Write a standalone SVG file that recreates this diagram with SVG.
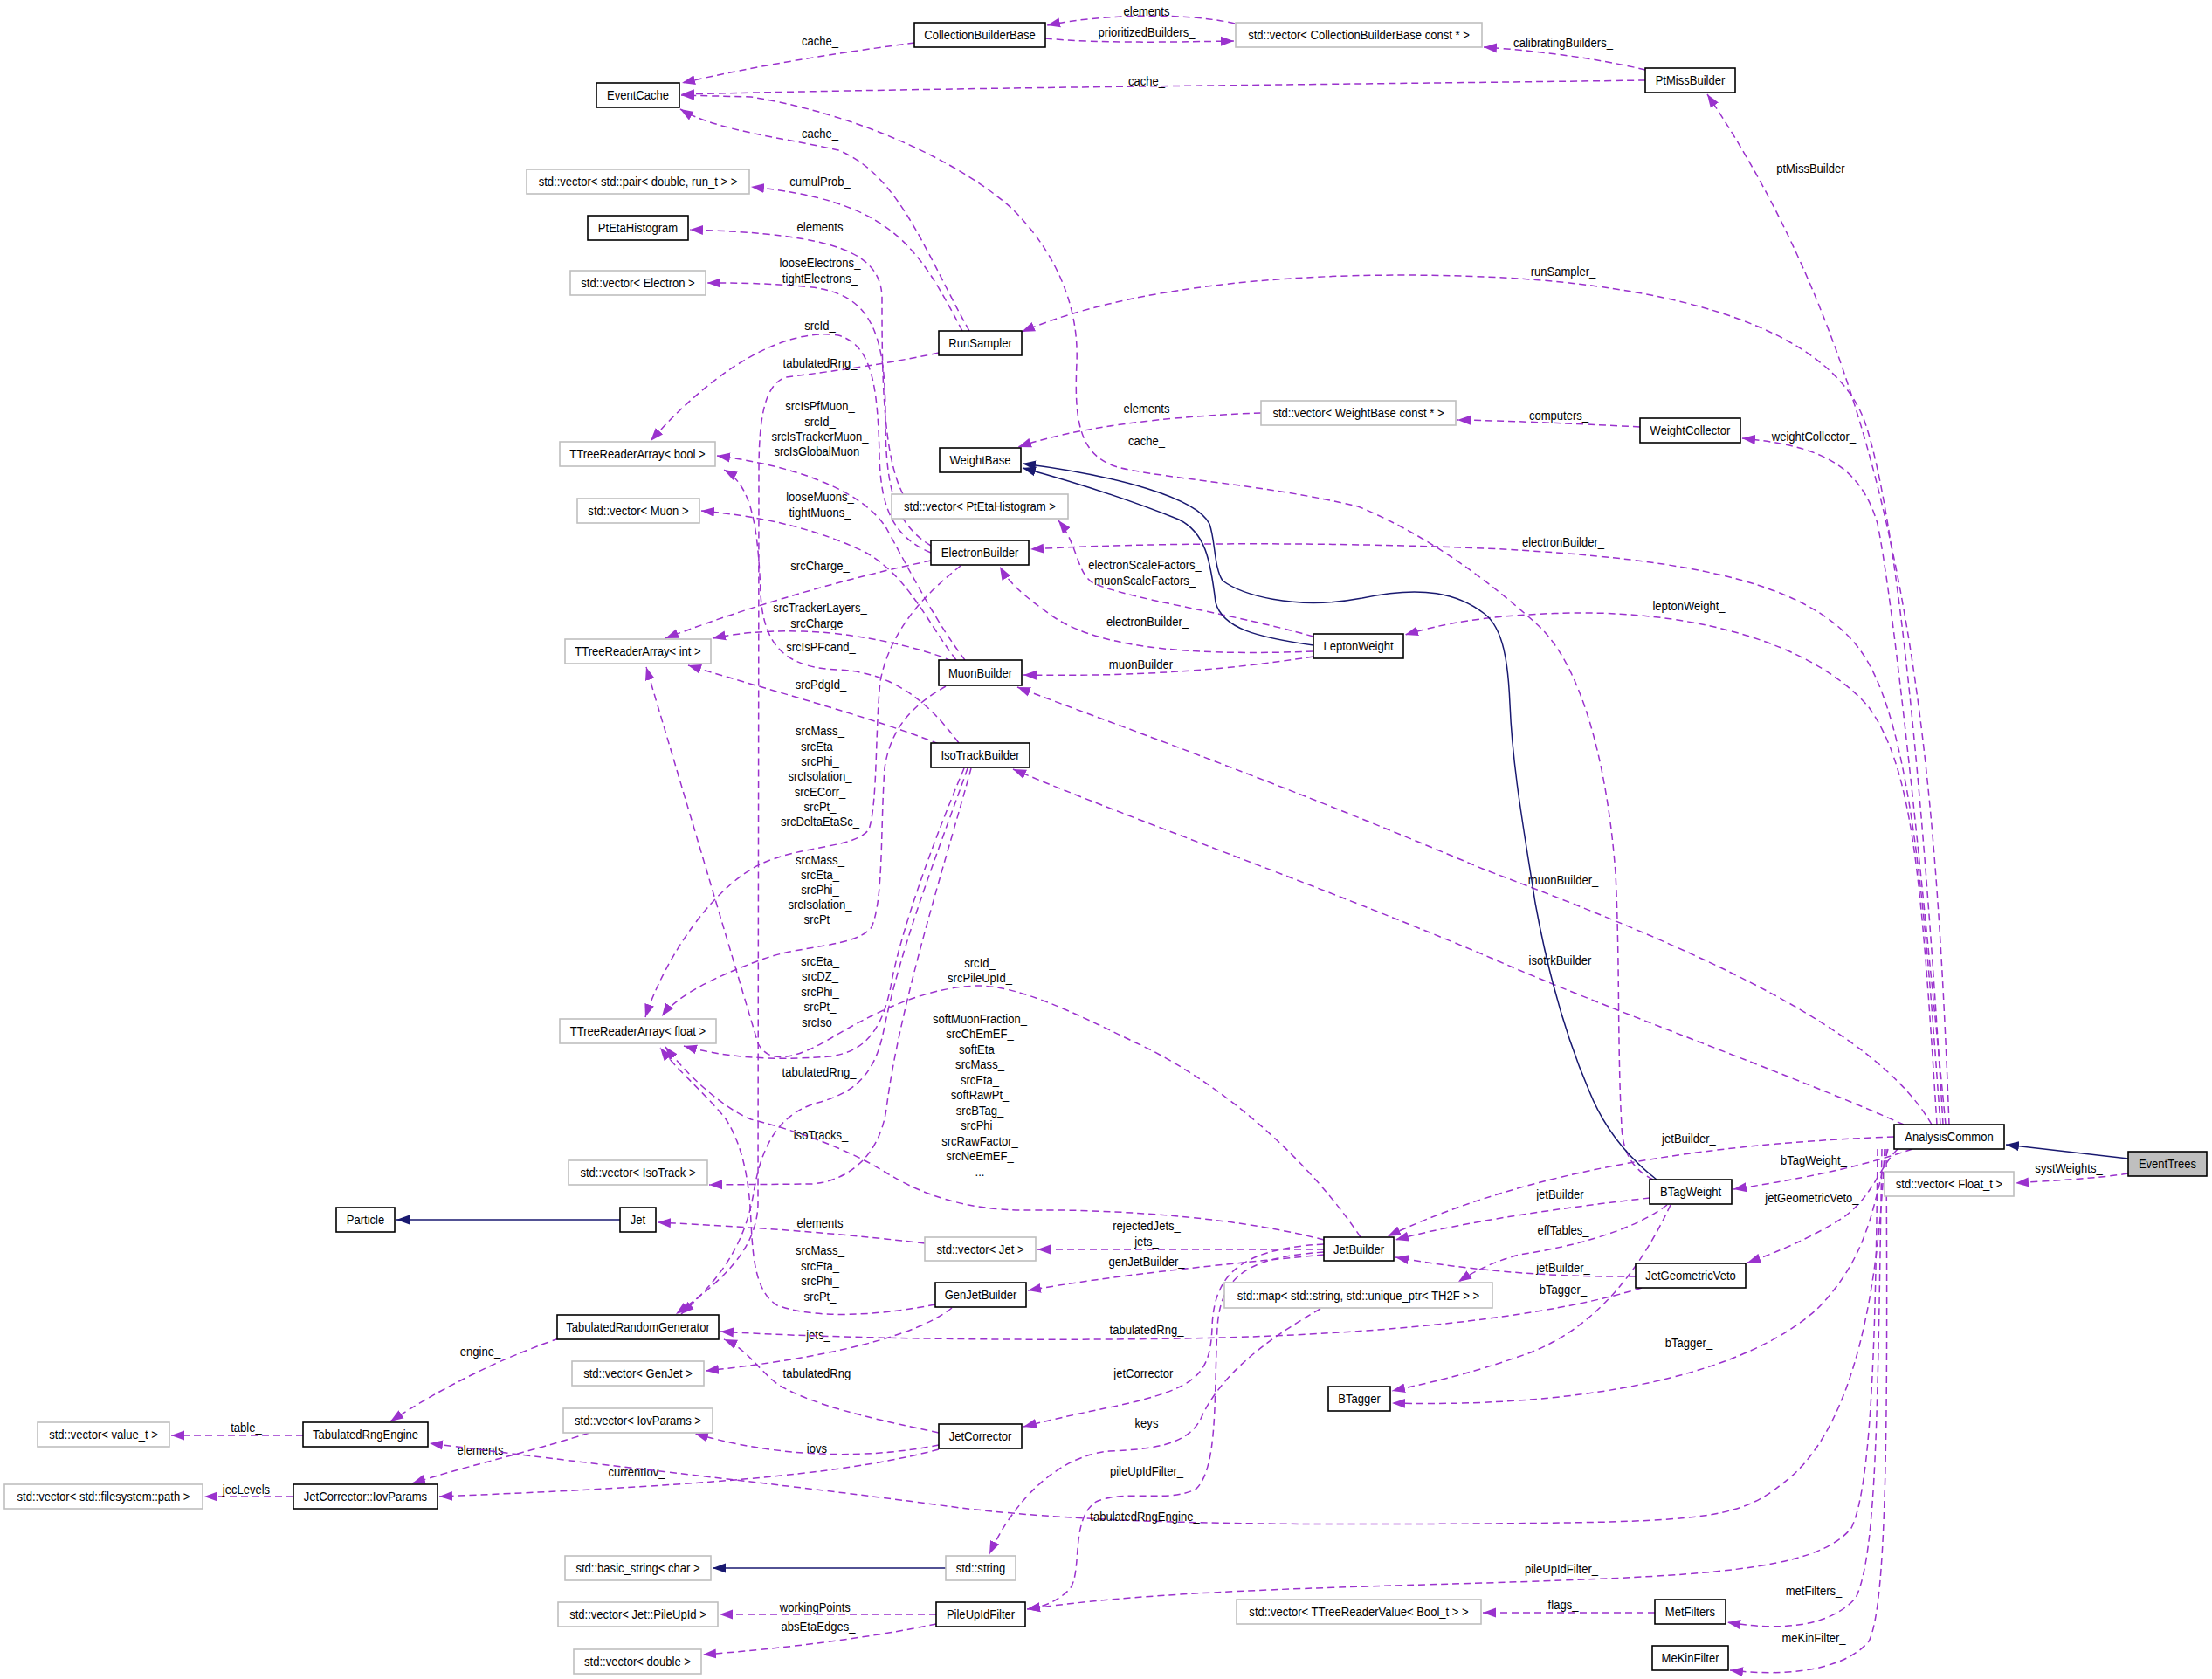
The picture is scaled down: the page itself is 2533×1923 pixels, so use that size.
<svg xmlns="http://www.w3.org/2000/svg" width="2533" height="1923" viewBox="0 0 2533 1923">
<style>
text{font-family:"Liberation Sans",Arial,Helvetica,sans-serif;font-size:15px;fill:#000;text-anchor:middle;transform-box:fill-box;transform-origin:center;transform:translateY(1px) scaleX(0.87)}
.n{fill:#fff;stroke:#000;stroke-width:1.6}
.x{fill:#fff;stroke:#bfbfbf;stroke-width:1.6}
.s{fill:#bfbfbf;stroke:#000;stroke-width:1.6}
.e{fill:none;stroke:#9a32cd;stroke-width:1.5;stroke-dasharray:8,5;marker-end:url(#ap)}
.i{fill:none;stroke:#191970;stroke-width:1.5;marker-end:url(#ab)}
</style>
<defs>
<marker id="ap" markerUnits="userSpaceOnUse" markerWidth="16" markerHeight="12" refX="15" refY="6" orient="auto"><path d="M0,0.5 L15,6 L0,11.5 z" fill="#9a32cd"/></marker>
<marker id="ab" markerUnits="userSpaceOnUse" markerWidth="16" markerHeight="12" refX="15" refY="6" orient="auto"><path d="M0,0.5 L15,6 L0,11.5 z" fill="#191970"/></marker>
</defs>
<rect width="2533" height="1923" fill="#fff"/>

<g id="connectors">
<g id="e_cbb_cache"><path class="e" d="M1047,49 C980,58 880,72 781,95"/><text x="939" y="51">cache_</text></g>
<g id="e_vcbb_cbb"><path class="e" d="M1414,27 C1360,14 1260,16 1199,29"/><text x="1313" y="17">elements</text></g>
<g id="e_cbb_vcbb"><path class="e" d="M1197,44 C1260,50 1350,48 1413,47"/><text x="1313" y="41">prioritizedBuilders_</text></g>
<g id="e_ptm_vcbb"><path class="e" d="M1884,80 C1830,67 1760,58 1699,54"/><text x="1790" y="53">calibratingBuilders_</text></g>
<g id="e_ptm_cache"><path class="e" d="M1884,92 C1600,96 1100,100 780,108"/><text x="1313" y="97">cache_</text></g>
<g id="e_rs_cache"><path class="e" d="M1110,379 C1060,290 1030,200 960,172 C900,158 820,150 779,125"/><text x="939" y="157">cache_</text></g>
<g id="e_rs_pair"><path class="e" d="M1102,379 C1050,280 1020,230 860,214"/><text x="939" y="212">cumulProb_</text></g>
<g id="e_rs_trg"><path class="e" d="M1075,404 C1000,420 930,428 900,432 C875,440 869,480 869,540 L868,1380 C866,1430 830,1465 774,1505"/><text x="939" y="420">tabulatedRng_</text></g>
<g id="e_vpeta_peta"><path class="e" d="M1034,566 C1010,520 1010,420 1010,340 C1008,290 960,268 790,263"/><text x="939" y="264">elements</text></g>
<g id="e_eb_vel"><path class="e" d="M1066,625 C1025,600 1014,560 1014,480 C1014,385 1000,338 930,329 C880,324 840,324 810,324"/><text x="939" y="305">looseElectrons_</text><text x="939" y="323">tightElectrons_</text></g>
<g id="e_eb_bool"><path class="e" d="M1066,633 C1022,615 1008,580 1007,520 C1005,440 998,395 960,384 C900,375 820,420 745,505"/><text x="939" y="377">srcId_</text></g>
<g id="e_mb_bool"><path class="e" d="M1105,756 C1070,710 1040,650 1015,605 C990,565 920,535 821,522"/><text x="939" y="469">srcIsPfMuon_</text><text x="939" y="487">srcId_</text><text x="939" y="504">srcIsTrackerMuon_</text><text x="939" y="521">srcIsGlobalMuon_</text></g>
<g id="e_mb_vmu"><path class="e" d="M1095,756 C1060,710 1040,660 990,632 C940,608 880,592 803,585"/><text x="939" y="573">looseMuons_</text><text x="939" y="591">tightMuons_</text></g>
<g id="e_iso_bool"><path class="e" d="M1098,851 C1060,800 1020,770 960,767 C900,765 874,740 871,680 C868,600 860,555 829,538"/><text x="940" y="745">srcIsPFcand_</text></g>
<g id="e_eb_int"><path class="e" d="M1066,642 C980,660 870,690 762,731"/><text x="939" y="652">srcCharge_</text></g>
<g id="e_mb_int"><path class="e" d="M1090,757 C1050,740 980,725 920,723 C870,722 840,726 816,731"/><text x="939" y="700">srcTrackerLayers_</text><text x="939" y="718">srcCharge_</text></g>
<g id="e_iso_int"><path class="e" d="M1075,852 C1000,822 880,790 788,762"/><text x="940" y="788">srcPdgId_</text></g>
<g id="e_jb_int"><path class="e" d="M1558,1417 C1500,1330 1400,1240 1300,1194 C1230,1160 1170,1130 1121,1129 C1060,1130 1000,1160 950,1190 C915,1210 882,1222 868,1195 L740,764"/><text x="1122" y="1107">srcId_</text><text x="1122" y="1124">srcPileUpId_</text></g>
<g id="e_eb_float"><path class="e" d="M1100,648 C1060,680 1020,720 1008,780 C1002,840 1005,920 995,950 C980,970 930,968 885,984 C820,1005 760,1100 739,1165"/><text x="939" y="841">srcMass_</text><text x="939" y="859">srcEta_</text><text x="939" y="876">srcPhi_</text><text x="939" y="893">srcIsolation_</text><text x="939" y="911">srcECorr_</text><text x="939" y="928">srcPt_</text><text x="939" y="945">srcDeltaEtaSc_</text></g>
<g id="e_mb_float"><path class="e" d="M1083,786 C1050,805 1020,830 1013,880 C1008,950 1012,1030 998,1062 C980,1085 920,1082 875,1098 C820,1118 775,1140 758,1164"/><text x="939" y="989">srcMass_</text><text x="939" y="1006">srcEta_</text><text x="939" y="1023">srcPhi_</text><text x="939" y="1040">srcIsolation_</text><text x="939" y="1057">srcPt_</text></g>
<g id="e_iso_float"><path class="e" d="M1104,880 C1070,960 1030,1070 1020,1130 C1010,1180 990,1205 950,1210 C900,1214 840,1214 783,1198"/><text x="939" y="1105">srcEta_</text><text x="939" y="1122">srcDZ_</text><text x="939" y="1140">srcPhi_</text><text x="939" y="1157">srcPt_</text><text x="939" y="1175">srcIso_</text></g>
<g id="e_jb_float"><path class="e" d="M1516,1420 C1400,1390 1250,1385 1175,1386 C1100,1386 1050,1365 1013,1342 C960,1310 900,1292 860,1282 C830,1270 790,1235 762,1199"/><text x="1122" y="1171">softMuonFraction_</text><text x="1122" y="1188">srcChEmEF_</text><text x="1122" y="1206">softEta_</text><text x="1122" y="1223">srcMass_</text><text x="1122" y="1241">srcEta_</text><text x="1122" y="1258">softRawPt_</text><text x="1122" y="1276">srcBTag_</text><text x="1122" y="1293">srcPhi_</text><text x="1122" y="1311">srcRawFactor_</text><text x="1122" y="1328">srcNeEmEF_</text><text x="1122" y="1346">...</text></g>
<g id="e_gj_float"><path class="e" d="M1071,1494 C1000,1508 930,1510 890,1495 C865,1480 862,1440 860,1400 C858,1350 850,1310 830,1280 C805,1250 775,1225 756,1200"/><text x="939" y="1436">srcMass_</text><text x="939" y="1454">srcEta_</text><text x="939" y="1471">srcPhi_</text><text x="939" y="1489">srcPt_</text></g>
<g id="e_iso_visotrk"><path class="e" d="M1112,880 C1085,980 1030,1150 1015,1270 C1008,1320 975,1352 930,1356 L812,1357"/><text x="940" y="1304">isoTracks_</text></g>
<g id="e_iso_trg"><path class="e" d="M1108,880 C1080,960 1032,1080 1012,1180 C1002,1230 980,1250 940,1262 C900,1272 875,1300 864,1360 C855,1420 830,1460 780,1505"/><text x="938" y="1232">tabulatedRng_</text></g>
<g id="e_vjet_jet"><path class="e" d="M1059,1424 C950,1411 850,1405 753,1400"/><text x="939" y="1405">elements</text></g>
<g id="e_jb_vjet"><path class="e" d="M1516,1431 L1188,1431"/><text x="1313" y="1408">rejectedJets_</text><text x="1313" y="1426">jets_</text></g>
<g id="e_jb_gj"><path class="e" d="M1516,1437 C1400,1448 1280,1460 1177,1478"/><text x="1313" y="1449">genJetBuilder_</text></g>
<g id="e_jb_jc"><path class="e" d="M1516,1425 C1420,1430 1390,1460 1388,1520 C1386,1575 1370,1590 1280,1610 C1230,1620 1200,1627 1172,1634"/><text x="1313" y="1577">jetCorrector_</text></g>
<g id="e_jb_pu"><path class="e" d="M1516,1434 C1430,1440 1398,1460 1394,1520 C1390,1600 1395,1680 1370,1705 C1340,1722 1290,1705 1255,1720 C1225,1740 1240,1800 1225,1820 C1210,1835 1195,1840 1176,1843"/><text x="1313" y="1689">pileUpIdFilter_</text></g>
<g id="e_map_str"><path class="e" d="M1512,1499 C1440,1540 1395,1580 1375,1625 C1360,1655 1320,1660 1270,1662 C1210,1668 1160,1720 1133,1780"/><text x="1313" y="1634">keys</text></g>
<g id="e_gj_vgj"><path class="e" d="M1090,1498 C1050,1530 950,1555 808,1570"/><text x="937" y="1533">jets_</text></g>
<g id="e_jgv_trg"><path class="e" d="M1880,1475 C1800,1500 1650,1525 1400,1532 C1200,1537 950,1533 825,1525"/><text x="1313" y="1527">tabulatedRng_</text></g>
<g id="e_jc_trg"><path class="e" d="M1075,1641 C1000,1625 930,1610 890,1585 C865,1565 855,1545 829,1534"/><text x="939" y="1577">tabulatedRng_</text></g>
<g id="e_trg_tre"><path class="e" d="M640,1533 C590,1550 520,1580 447,1628"/><text x="550" y="1552">engine_</text></g>
<g id="e_tre_vval"><path class="e" d="M347,1644 L196,1644"/><text x="282" y="1639">table_</text></g>
<g id="e_viov_iov"><path class="e" d="M675,1641 C600,1665 530,1680 472,1699"/><text x="550" y="1665">elements</text></g>
<g id="e_jc_viov"><path class="e" d="M1075,1655 C1000,1670 900,1672 796,1642"/><text x="939" y="1663">iovs_</text></g>
<g id="e_jc_iov"><path class="e" d="M1075,1660 C980,1685 850,1700 503,1714"/><text x="729" y="1690">currentIov_</text></g>
<g id="e_iov_path"><path class="e" d="M336,1714 L234,1714"/><text x="282" y="1710">jecLevels</text></g>
<g id="e_pu_vpu"><path class="e" d="M1072,1849 L824,1849"/><text x="937" y="1845">workingPoints_</text></g>
<g id="e_pu_vdbl"><path class="e" d="M1072,1860 C1000,1875 900,1888 805,1895"/><text x="937" y="1867">absEtaEdges_</text></g>
<g id="e_met_ttrv"><path class="e" d="M1895,1847 L1698,1847"/><text x="1790" y="1842">flags_</text></g>
<g id="e_lw_vpeta"><path class="e" d="M1504,729 C1400,700 1300,688 1252,668 C1232,655 1235,625 1212,596"/><text x="1311" y="651">electronScaleFactors_</text><text x="1311" y="669">muonScaleFactors_</text></g>
<g id="e_lw_eb"><path class="e" d="M1504,746 C1350,752 1250,740 1200,702 C1172,682 1155,667 1145,649"/><text x="1314" y="716">electronBuilder_</text></g>
<g id="e_lw_mb"><path class="e" d="M1504,752 C1400,768 1300,775 1172,773"/><text x="1310" y="765">muonBuilder_</text></g>
<g id="e_wc_vwb"><path class="e" d="M1878,489 C1800,485 1730,482 1669,481"/><text x="1785" y="480">computers_</text></g>
<g id="e_vwb_wb"><path class="e" d="M1444,473 C1330,477 1230,490 1166,512"/><text x="1313" y="472">elements</text></g>
<g id="e_bw_cache"><path class="e" d="M1893,1351 C1870,1340 1858,1320 1857,1290 C1852,1200 1855,1100 1850,1000 C1840,870 1810,760 1760,715 C1710,670 1640,615 1555,580 C1450,555 1330,548 1280,535 C1235,522 1230,480 1233,415 C1236,340 1200,280 1160,240 C1100,185 980,130 860,111 L780,109"/><text x="1313" y="509">cache_</text></g>
<g id="e_ac_ptm"><path class="e" d="M2232,1288 C2215,850 2185,450 1955,108"/><text x="2077" y="197">ptMissBuilder_</text></g>
<g id="e_ac_rs"><path class="e" d="M2225,1288 C2205,950 2175,600 2136,485 C2097,370 1900,325 1700,317 C1500,309 1300,325 1170,380"/><text x="1790" y="315">runSampler_</text></g>
<g id="e_ac_wc"><path class="e" d="M2228,1288 C2200,1000 2170,700 2150,600 C2130,530 2080,510 1995,502"/><text x="2077" y="504">weightCollector_</text></g>
<g id="e_ac_eb"><path class="e" d="M2222,1288 C2205,1050 2190,850 2140,760 C2090,670 1950,640 1700,628 C1500,620 1300,622 1180,629"/><text x="1790" y="625">electronBuilder_</text></g>
<g id="e_ac_lw"><path class="e" d="M2218,1288 C2200,1000 2190,880 2140,810 C2080,740 1950,700 1800,702 C1700,704 1650,715 1609,727"/><text x="1934" y="698">leptonWeight_</text></g>
<g id="e_ac_mb"><path class="e" d="M2212,1288 C2150,1180 1950,1090 1700,996 C1450,890 1250,820 1165,787"/><text x="1790" y="1012">muonBuilder_</text></g>
<g id="e_ac_iso"><path class="e" d="M2180,1288 C2050,1230 1850,1160 1700,1094 C1500,1010 1300,940 1160,881"/><text x="1790" y="1104">isotrkBuilder_</text></g>
<g id="e_ac_jb"><path class="e" d="M2169,1302 C1950,1310 1750,1340 1589,1416"/><text x="1934" y="1308">jetBuilder_</text></g>
<g id="e_ac_bw"><path class="e" d="M2190,1316 C2120,1340 2050,1352 1985,1362"/><text x="2077" y="1333">bTagWeight_</text></g>
<g id="e_ac_jgv"><path class="e" d="M2173,1316 C2150,1340 2145,1370 2110,1395 C2070,1420 2030,1436 2001,1446"/><text x="2075" y="1376">jetGeometricVeto_</text></g>
<g id="e_ac_btag"><path class="e" d="M2162,1316 C2145,1380 2140,1440 2080,1500 C1990,1580 1800,1612 1594,1607"/><text x="1934" y="1542">bTagger_</text></g>
<g id="e_ac_tre"><path class="e" d="M2158,1316 C2150,1520 2110,1650 2040,1700 C1990,1740 1950,1743 1700,1745 C1450,1747 1250,1745 1100,1727 C900,1700 700,1680 492,1653"/><text x="1311" y="1741">tabulatedRngEngine_</text></g>
<g id="e_ac_pu"><path class="e" d="M2150,1316 C2148,1500 2145,1700 2120,1750 C2080,1800 1950,1805 1700,1813 C1450,1820 1300,1825 1176,1843"/><text x="1788" y="1801">pileUpIdFilter_</text></g>
<g id="e_ac_met"><path class="e" d="M2155,1316 C2150,1600 2150,1780 2125,1830 C2090,1870 2020,1865 1978,1858"/><text x="2077" y="1826">metFilters_</text></g>
<g id="e_ac_mek"><path class="e" d="M2160,1316 C2162,1650 2160,1840 2140,1880 C2110,1915 2040,1920 1981,1913"/><text x="2077" y="1880">meKinFilter_</text></g>
<g id="e_et_vf"><path class="e" d="M2437,1344 C2400,1350 2350,1352 2308,1355"/><text x="2369" y="1342">systWeights_</text></g>
<g id="e_bw_jb"><path class="e" d="M1889,1372 C1800,1382 1680,1398 1598,1420"/><text x="1790" y="1372">jetBuilder_</text></g>
<g id="e_bw_map"><path class="e" d="M1909,1380 C1870,1410 1800,1428 1740,1437 C1710,1445 1690,1455 1670,1468"/><text x="1790" y="1413">effTables_</text></g>
<g id="e_bw_btag"><path class="e" d="M1913,1380 C1880,1450 1830,1520 1750,1550 C1680,1575 1630,1585 1594,1593"/><text x="1790" y="1481">bTagger_</text></g>
<g id="e_jgv_jb"><path class="e" d="M1873,1462 C1800,1463 1700,1458 1598,1440"/><text x="1790" y="1456">jetBuilder_</text></g>
<g id="e_et_ac"><path class="i" d="M2437,1327 L2297,1311"/></g>
<g id="e_str_bstr"><path class="i" d="M1083,1796 L816,1796"/></g>
<g id="e_jet_particle"><path class="i" d="M710,1397 L454,1397"/></g>
<g id="e_lw_wb"><path class="i" d="M1504,739 C1440,730 1400,720 1392,690 C1386,640 1380,610 1350,595 C1300,575 1230,552 1171,536"/></g>
<g id="e_bw_wb"><path class="i" d="M1897,1351 C1870,1330 1840,1300 1820,1250 C1790,1180 1770,1100 1758,1034 C1745,950 1732,880 1729,806 C1727,760 1722,720 1700,703 C1670,680 1630,670 1560,685 C1480,700 1420,680 1400,665 C1390,650 1392,620 1385,600 C1370,570 1280,545 1171,531"/></g>
</g>

<g id="n_EventCache"><rect class="n" x="683" y="95" width="95" height="28"/><text x="730.5" y="113.5">EventCache</text></g>
<g id="n_vpair"><rect class="x" x="603" y="194" width="255" height="28"/><text x="730.5" y="212.5">std::vector&lt; std::pair&lt; double, run_t &gt; &gt;</text></g>
<g id="n_PtEtaHistogram"><rect class="n" x="673" y="247" width="115" height="28"/><text x="730.5" y="265.5">PtEtaHistogram</text></g>
<g id="n_vElectron"><rect class="x" x="653" y="310" width="155" height="28"/><text x="730.5" y="328.5">std::vector&lt; Electron &gt;</text></g>
<g id="n_TTRAbool"><rect class="x" x="641" y="506" width="178" height="28"/><text x="730" y="524.5">TTreeReaderArray&lt; bool &gt;</text></g>
<g id="n_vMuon"><rect class="x" x="661" y="571" width="140" height="28"/><text x="731" y="589.5">std::vector&lt; Muon &gt;</text></g>
<g id="n_TTRAint"><rect class="x" x="647" y="732" width="167" height="28"/><text x="730.5" y="750.5">TTreeReaderArray&lt; int &gt;</text></g>
<g id="n_TTRAfloat"><rect class="x" x="641" y="1167" width="179" height="28"/><text x="730.5" y="1185.5">TTreeReaderArray&lt; float &gt;</text></g>
<g id="n_CollectionBuilderBase"><rect class="n" x="1047" y="26" width="150" height="28"/><text x="1122" y="44.5">CollectionBuilderBase</text></g>
<g id="n_vCBB"><rect class="x" x="1415" y="26" width="282" height="28"/><text x="1556" y="44.5">std::vector&lt; CollectionBuilderBase const * &gt;</text></g>
<g id="n_RunSampler"><rect class="n" x="1075" y="379" width="95" height="28"/><text x="1122.5" y="397.5">RunSampler</text></g>
<g id="n_vWeightBase"><rect class="x" x="1444" y="459" width="223" height="28"/><text x="1555.5" y="477.5">std::vector&lt; WeightBase const * &gt;</text></g>
<g id="n_WeightBase"><rect class="n" x="1076" y="513" width="93" height="28"/><text x="1122.5" y="531.5">WeightBase</text></g>
<g id="n_vPtEta"><rect class="x" x="1021" y="566" width="202" height="28"/><text x="1122" y="584.5">std::vector&lt; PtEtaHistogram &gt;</text></g>
<g id="n_ElectronBuilder"><rect class="n" x="1066" y="619" width="112" height="28"/><text x="1122" y="637.5">ElectronBuilder</text></g>
<g id="n_PtMissBuilder"><rect class="n" x="1884" y="78" width="103" height="28"/><text x="1935.5" y="96.5">PtMissBuilder</text></g>
<g id="n_WeightCollector"><rect class="n" x="1878" y="479" width="115" height="28"/><text x="1935.5" y="497.5">WeightCollector</text></g>
<g id="n_MuonBuilder"><rect class="n" x="1075" y="756" width="95" height="29"/><text x="1122.5" y="775">MuonBuilder</text></g>
<g id="n_IsoTrackBuilder"><rect class="n" x="1066" y="851" width="113" height="28"/><text x="1122.5" y="869.5">IsoTrackBuilder</text></g>
<g id="n_LeptonWeight"><rect class="n" x="1504" y="726" width="103" height="28"/><text x="1555.5" y="744.5">LeptonWeight</text></g>
<g id="n_AnalysisCommon"><rect class="n" x="2169" y="1288" width="126" height="28"/><text x="2232" y="1306.5">AnalysisCommon</text></g>
<g id="n_EventTrees"><rect class="s" x="2437" y="1319" width="90" height="28"/><text x="2482" y="1337.5">EventTrees</text></g>
<g id="n_vFloat"><rect class="x" x="2158" y="1342" width="148" height="28"/><text x="2232" y="1360.5">std::vector&lt; Float_t &gt;</text></g>
<g id="n_BTagWeight"><rect class="n" x="1889" y="1351" width="94" height="28"/><text x="1936" y="1369.5">BTagWeight</text></g>
<g id="n_JetGeometricVeto"><rect class="n" x="1873" y="1447" width="126" height="28"/><text x="1936" y="1465.5">JetGeometricVeto</text></g>
<g id="n_MetFilters"><rect class="n" x="1895" y="1832" width="81" height="28"/><text x="1935.5" y="1850.5">MetFilters</text></g>
<g id="n_MeKinFilter"><rect class="n" x="1892" y="1885" width="87" height="28"/><text x="1935.5" y="1903.5">MeKinFilter</text></g>
<g id="n_vJet"><rect class="x" x="1059" y="1417" width="127" height="27"/><text x="1122.5" y="1435">std::vector&lt; Jet &gt;</text></g>
<g id="n_JetBuilder"><rect class="n" x="1516" y="1417" width="80" height="27"/><text x="1556" y="1435">JetBuilder</text></g>
<g id="n_GenJetBuilder"><rect class="n" x="1071" y="1469" width="104" height="28"/><text x="1123" y="1487.5">GenJetBuilder</text></g>
<g id="n_map"><rect class="x" x="1402" y="1469" width="307" height="29"/><text x="1555.5" y="1488">std::map&lt; std::string, std::unique_ptr&lt; TH2F &gt; &gt;</text></g>
<g id="n_BTagger"><rect class="n" x="1521" y="1588" width="71" height="28"/><text x="1556.5" y="1606.5">BTagger</text></g>
<g id="n_JetCorrector"><rect class="n" x="1075" y="1631" width="95" height="28"/><text x="1122.5" y="1649.5">JetCorrector</text></g>
<g id="n_string"><rect class="x" x="1083" y="1782" width="80" height="28"/><text x="1123" y="1800.5">std::string</text></g>
<g id="n_PileUpIdFilter"><rect class="n" x="1072" y="1835" width="102" height="28"/><text x="1123" y="1853.5">PileUpIdFilter</text></g>
<g id="n_vTTRV"><rect class="x" x="1416" y="1832" width="280" height="28"/><text x="1556" y="1850.5">std::vector&lt; TTreeReaderValue&lt; Bool_t &gt; &gt;</text></g>
<g id="n_vIsoTrack"><rect class="x" x="651" y="1329" width="159" height="28"/><text x="730.5" y="1347.5">std::vector&lt; IsoTrack &gt;</text></g>
<g id="n_Particle"><rect class="n" x="385" y="1383" width="67" height="28"/><text x="418.5" y="1401.5">Particle</text></g>
<g id="n_Jet"><rect class="n" x="710" y="1383" width="41" height="28"/><text x="730.5" y="1401.5">Jet</text></g>
<g id="n_TabulatedRandomGenerator"><rect class="n" x="638" y="1506" width="185" height="28"/><text x="730.5" y="1524.5">TabulatedRandomGenerator</text></g>
<g id="n_vGenJet"><rect class="x" x="655" y="1559" width="151" height="28"/><text x="730.5" y="1577.5">std::vector&lt; GenJet &gt;</text></g>
<g id="n_TabulatedRngEngine"><rect class="n" x="347" y="1629" width="143" height="28"/><text x="418.5" y="1647.5">TabulatedRngEngine</text></g>
<g id="n_vvalue"><rect class="x" x="43" y="1629" width="151" height="28"/><text x="118.5" y="1647.5">std::vector&lt; value_t &gt;</text></g>
<g id="n_vIovParams"><rect class="x" x="645" y="1613" width="171" height="28"/><text x="730.5" y="1631.5">std::vector&lt; IovParams &gt;</text></g>
<g id="n_IovParams"><rect class="n" x="336" y="1700" width="165" height="28"/><text x="418.5" y="1718.5">JetCorrector::IovParams</text></g>
<g id="n_vpath"><rect class="x" x="5" y="1700" width="227" height="28"/><text x="118.5" y="1718.5">std::vector&lt; std::filesystem::path &gt;</text></g>
<g id="n_basic_string"><rect class="x" x="647" y="1782" width="167" height="28"/><text x="730.5" y="1800.5">std::basic_string&lt; char &gt;</text></g>
<g id="n_vPileUpId"><rect class="x" x="639" y="1835" width="183" height="28"/><text x="730.5" y="1853.5">std::vector&lt; Jet::PileUpId &gt;</text></g>
<g id="n_vdouble"><rect class="x" x="657" y="1889" width="146" height="28"/><text x="730" y="1907.5">std::vector&lt; double &gt;</text></g>
</svg>
